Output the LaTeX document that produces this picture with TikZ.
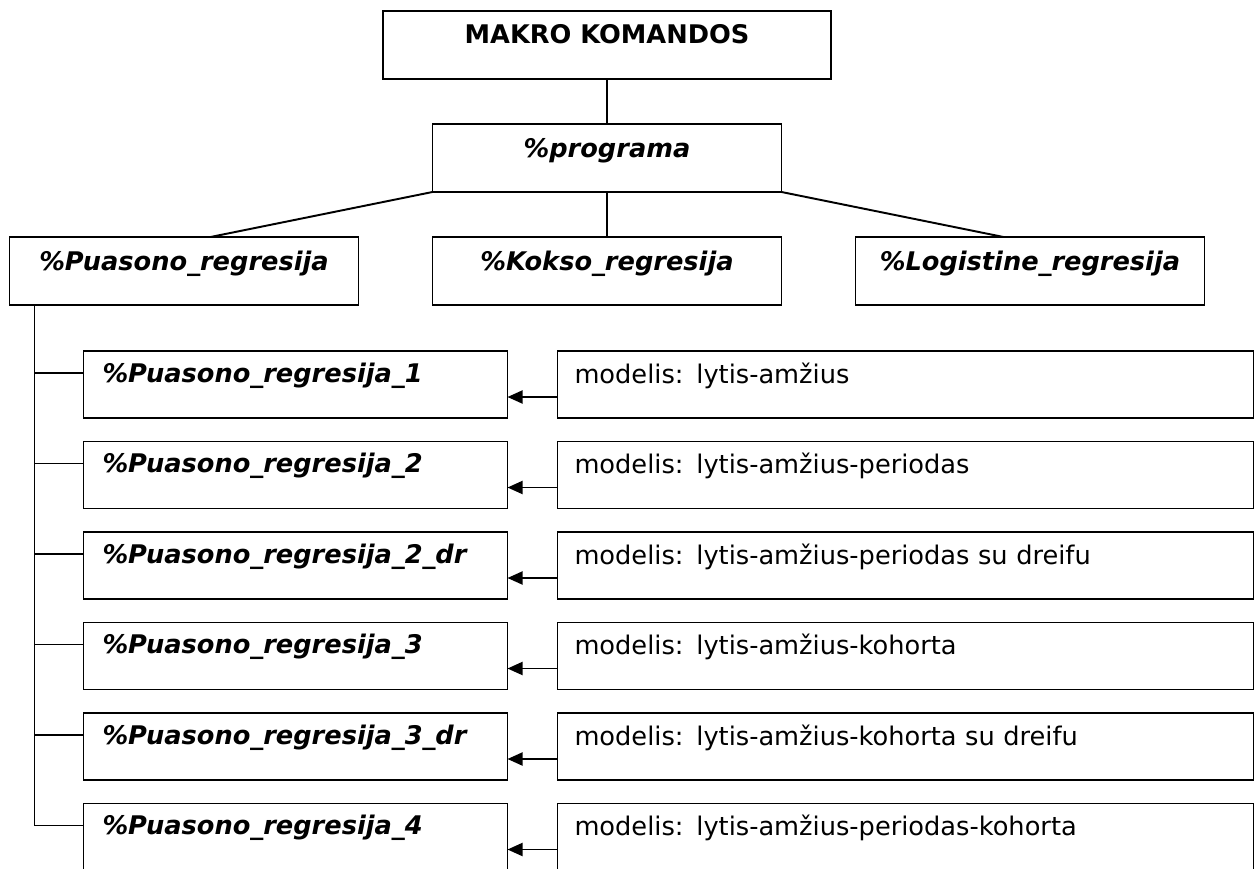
\documentclass[tikz,border=0pt]{standalone}
\usepackage{fontspec}
\setmainfont{DejaVu Sans}
\usetikzlibrary{arrows.meta,positioning}

\begin{document}
\begin{tikzpicture}[
    line width=1.1pt,
    topbox/.style={draw,outer sep=0pt,minimum width=6.98cm,inner xsep=0pt,inner ysep=0pt,
      text height=0.66cm,text depth=0.70cm,font=\fontsize{14.6}{17}\selectfont\bfseries\itshape},
    rowbox/.style={draw,outer sep=0pt,text width=7.72cm,inner xsep=0.38cm,inner ysep=0pt,
      align=left,text height=0.62cm,text depth=0.72cm,font=\fontsize{14.6}{17}\selectfont\bfseries\itshape},
    notebox/.style={draw,outer sep=0pt,text width=13.24cm,inner xsep=0.34cm,inner ysep=0pt,
      align=left,text height=0.64cm,text depth=0.70cm,font=\fontsize{14.6}{17}\selectfont},
    arr/.style={-{Triangle[length=0.3cm,width=0.26cm]}}
  ]
    \useasboundingbox (0,0) rectangle (25.08,-17.38);
    \node[topbox,minimum width=8.96cm,font=\fontsize{14.6}{17}\selectfont\bfseries,anchor=north]
      (makro) at (12.14,-0.22) {MAKRO KOMANDOS};
    \node[topbox,below=0.9cm of makro] (prog) {\%programa};
    \node[topbox,below=0.9cm of prog] (kokso) {\%Kokso\_regresija};
    \node[topbox,left=1.48cm of kokso] (puas) {\%Puasono\_regresija};
    \node[topbox,right=1.48cm of kokso] (logi) {\%Logistine\_regresija};

    \node[rowbox,below right=0.92cm and 1.48cm of puas.south west] (pr1) {\%Puasono\_regresija\_1};
    \node[rowbox,below=0.47cm of pr1] (pr2) {\%Puasono\_regresija\_2};
    \node[rowbox,below=0.47cm of pr2] (pr3) {\%Puasono\_regresija\_2\_dr};
    \node[rowbox,below=0.47cm of pr3] (pr4) {\%Puasono\_regresija\_3};
    \node[rowbox,below=0.47cm of pr4] (pr5) {\%Puasono\_regresija\_3\_dr};
    \node[rowbox,below=0.47cm of pr5] (pr6) {\%Puasono\_regresija\_4};

    \node[notebox,right=1cm of pr1] (m1) {modelis: lytis-amžius};
    \node[notebox,right=1cm of pr2] (m2) {modelis: lytis-amžius-periodas};
    \node[notebox,right=1cm of pr3] (m3) {modelis: lytis-amžius-periodas su dreifu};
    \node[notebox,right=1cm of pr4] (m4) {modelis: lytis-amžius-kohorta};
    \node[notebox,right=1cm of pr5] (m5) {modelis: lytis-amžius-kohorta su dreifu};
    \node[notebox,right=1cm of pr6] (m6) {modelis: lytis-amžius-periodas-kohorta};

    \draw (makro) -- (prog);
    \draw (prog.south west) -- ([xshift=0.53cm]puas.north);
    \draw (prog) -- (kokso);
    \draw (prog.south east) -- ([xshift=-0.53cm]logi.north);

    \coordinate[right=0.5cm of puas.south west] (spine);
    \draw (spine) |- ([yshift=0.23cm]pr1.west);
    \draw (spine) |- ([yshift=0.23cm]pr2.west);
    \draw (spine) |- ([yshift=0.23cm]pr3.west);
    \draw (spine) |- ([yshift=0.23cm]pr4.west);
    \draw (spine) |- ([yshift=0.23cm]pr5.west);
    \draw (spine) |- ([yshift=0.23cm]pr6.west);

    \draw[arr] ([yshift=-0.25cm]m1.west) -- ([yshift=-0.25cm]pr1.east);
    \draw[arr] ([yshift=-0.25cm]m2.west) -- ([yshift=-0.25cm]pr2.east);
    \draw[arr] ([yshift=-0.25cm]m3.west) -- ([yshift=-0.25cm]pr3.east);
    \draw[arr] ([yshift=-0.25cm]m4.west) -- ([yshift=-0.25cm]pr4.east);
    \draw[arr] ([yshift=-0.25cm]m5.west) -- ([yshift=-0.25cm]pr5.east);
    \draw[arr] ([yshift=-0.25cm]m6.west) -- ([yshift=-0.25cm]pr6.east);
  \end{tikzpicture}
\end{document}
